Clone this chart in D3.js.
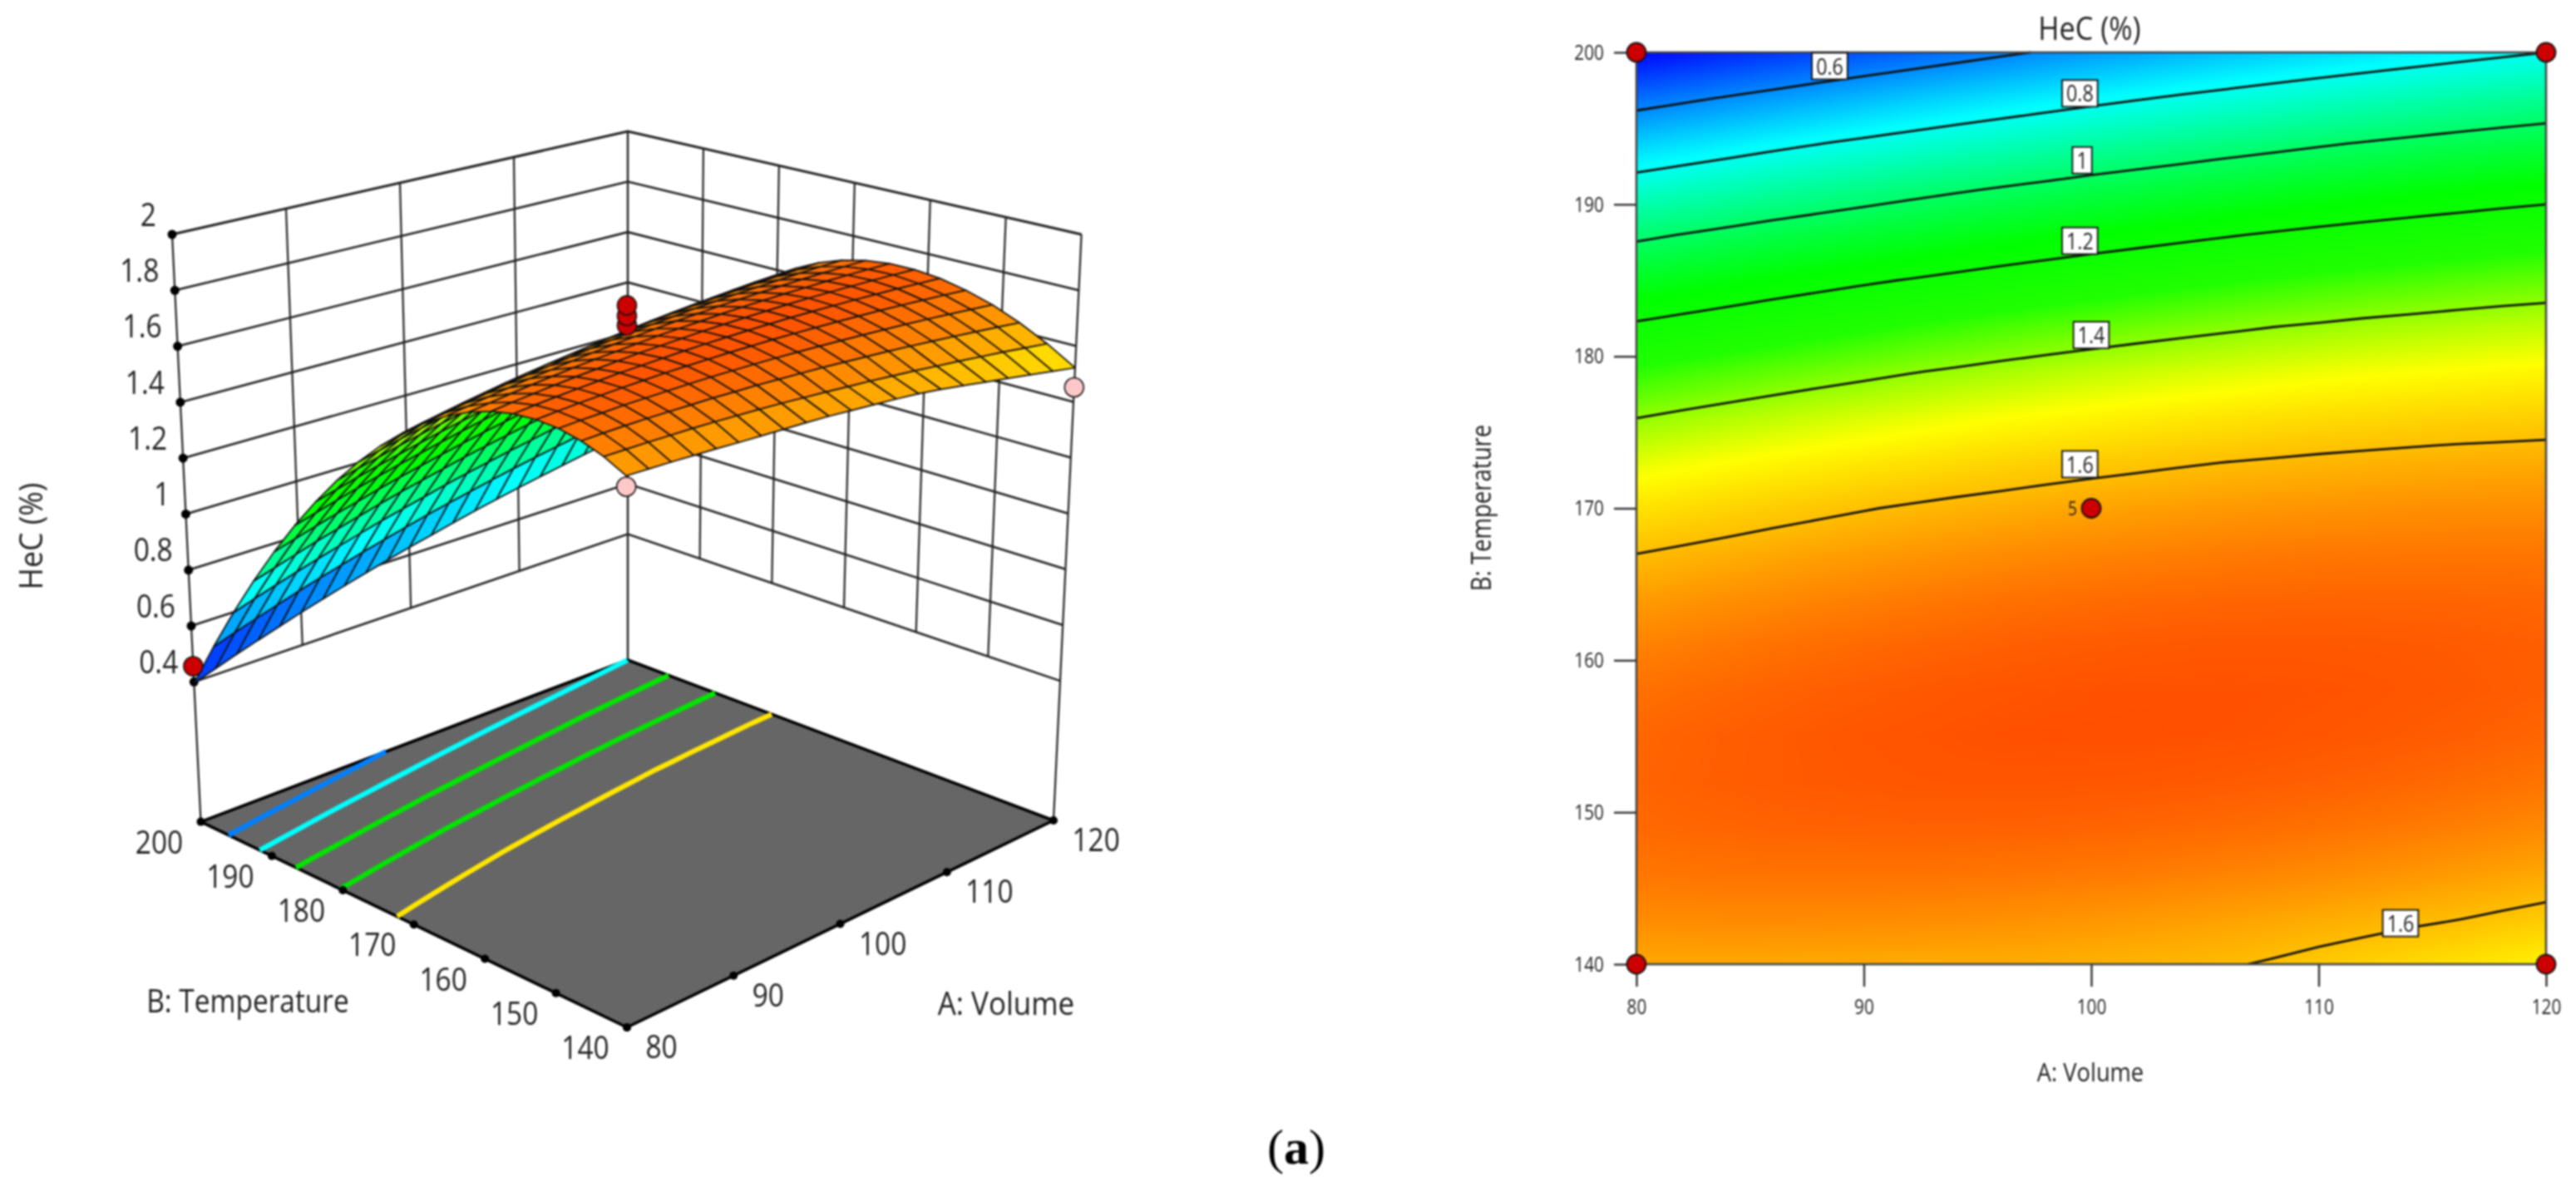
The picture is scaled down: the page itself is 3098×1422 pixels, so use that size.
<!DOCTYPE html>
<html><head><meta charset="utf-8">
<script src="https://cdn.jsdelivr.net/npm/d3@7/dist/d3.min.js"></script>
<style>html,body{margin:0;padding:0;background:#fff}svg{display:block}text{font-family:"Open Sans",sans-serif;fill:#222}</style>
</head><body><div id="chart"></div>
<script>
const volumeTicks=[80,90,100,110,120];
const temperatureTicks=[140,150,160,170,180,190,200];
const hecTicks=[0.4,0.6,0.8,1,1.2,1.4,1.6,1.8,2];
const gridVolume=d3.range(80,120.5,2);
const gridTemperature=d3.range(140,200.5,3);
// HeC (%) read per temperature row (140 -> 200), per volume column (80 -> 120)
const hec140=[1.631,1.631,1.631,1.630,1.629,1.627,1.626,1.625,1.624,1.622,1.618,1.614,1.610,1.604,1.595,1.584,1.572,1.560,1.548,1.535,1.522];
const hec143=[1.670,1.671,1.672,1.672,1.672,1.671,1.669,1.667,1.664,1.660,1.656,1.651,1.646,1.640,1.634,1.626,1.619,1.610,1.602,1.592,1.582];
const hec146=[1.698,1.701,1.703,1.704,1.704,1.704,1.704,1.702,1.701,1.698,1.695,1.692,1.687,1.682,1.677,1.671,1.664,1.657,1.649,1.641,1.632];
const hec149=[1.716,1.720,1.722,1.725,1.726,1.727,1.728,1.728,1.727,1.726,1.724,1.721,1.718,1.714,1.710,1.705,1.700,1.694,1.687,1.680,1.672];
const hec152=[1.723,1.728,1.732,1.735,1.738,1.740,1.742,1.743,1.743,1.743,1.742,1.741,1.739,1.736,1.733,1.729,1.725,1.720,1.714,1.708,1.701];
const hec155=[1.720,1.726,1.731,1.735,1.739,1.743,1.745,1.747,1.749,1.750,1.750,1.750,1.749,1.748,1.746,1.743,1.740,1.736,1.732,1.726,1.721];
const hec158=[1.706,1.713,1.719,1.725,1.730,1.734,1.738,1.742,1.744,1.746,1.748,1.749,1.749,1.749,1.748,1.747,1.745,1.742,1.739,1.735,1.730];
const hec161=[1.681,1.689,1.697,1.704,1.710,1.716,1.721,1.725,1.729,1.733,1.735,1.737,1.739,1.740,1.740,1.740,1.739,1.738,1.736,1.733,1.730];
const hec164=[1.646,1.655,1.664,1.672,1.680,1.686,1.693,1.699,1.704,1.708,1.712,1.716,1.718,1.721,1.722,1.723,1.723,1.723,1.722,1.721,1.719];
const hec167=[1.600,1.610,1.620,1.630,1.639,1.647,1.654,1.661,1.668,1.674,1.679,1.683,1.687,1.691,1.694,1.696,1.697,1.698,1.699,1.699,1.698];
const hec170=[1.543,1.555,1.566,1.577,1.587,1.597,1.606,1.614,1.621,1.629,1.635,1.641,1.646,1.651,1.655,1.658,1.661,1.664,1.665,1.666,1.667];
const hec173=[1.476,1.489,1.502,1.514,1.525,1.536,1.546,1.556,1.565,1.573,1.581,1.588,1.595,1.601,1.606,1.611,1.615,1.619,1.622,1.624,1.626];
const hec176=[1.398,1.413,1.427,1.440,1.453,1.465,1.476,1.487,1.498,1.507,1.516,1.525,1.533,1.540,1.547,1.553,1.558,1.563,1.568,1.571,1.574];
const hec179=[1.310,1.326,1.341,1.356,1.370,1.383,1.396,1.408,1.420,1.431,1.442,1.451,1.461,1.469,1.477,1.485,1.492,1.498,1.503,1.509,1.513];
const hec182=[1.211,1.228,1.245,1.261,1.276,1.291,1.306,1.319,1.332,1.345,1.356,1.368,1.378,1.388,1.398,1.406,1.415,1.422,1.429,1.436,1.441];
const hec185=[1.102,1.120,1.138,1.156,1.173,1.189,1.204,1.219,1.234,1.248,1.261,1.273,1.285,1.297,1.308,1.318,1.327,1.336,1.345,1.353,1.360];
const hec188=[0.982,1.002,1.021,1.040,1.058,1.076,1.093,1.109,1.125,1.140,1.155,1.169,1.182,1.195,1.207,1.219,1.230,1.240,1.250,1.259,1.268];
const hec191=[0.851,0.872,0.893,0.914,0.933,0.952,0.971,0.989,1.006,1.022,1.039,1.054,1.069,1.083,1.097,1.110,1.122,1.134,1.145,1.156,1.166];
const hec194=[0.710,0.733,0.755,0.777,0.798,0.818,0.838,0.858,0.876,0.894,0.912,0.929,0.945,0.961,0.976,0.991,1.005,1.018,1.031,1.043,1.054];
const hec197=[0.558,0.582,0.606,0.629,0.652,0.674,0.695,0.716,0.736,0.756,0.775,0.793,0.811,0.828,0.845,0.861,0.876,0.891,0.905,0.919,0.932];
const hec200=[0.395,0.421,0.447,0.471,0.495,0.519,0.542,0.564,0.586,0.607,0.628,0.647,0.667,0.686,0.704,0.721,0.738,0.754,0.770,0.785,0.800];
const hecGrid=[hec140,hec143,hec146,hec149,hec152,hec155,hec158,hec161,hec164,hec167,hec170,hec173,hec176,hec179,hec182,hec185,hec188,hec191,hec194,hec197,hec200];
const colorValues=[0.39,0.78,1.05,1.15,1.30,1.40,1.50,1.60,1.75];
const colorRange=["#0000ff","#00ffff","#00ff40","#00ff00","#20ff00","#90ff00","#ffff00","#ffbe00","#ff5000"];
const contourLevels=[0.6,0.8,1,1.2,1.4,1.6];
const floorLevels=[0.6,0.8,1,1.2,1.4];
const floorLevelColors=["#0080ff","#00ffff","#00e600","#00e600","#ffe600"];
const labelText=["0.6","0.8","1","1.2","1.4","1.6","1.6"];
const labelVolume=[88.5,99.5,99.6,99.5,100,99.5,113.6];
const labelTemperature=[199.1,197.3,192.9,187.6,181.4,172.9,142.7];
const designVolume=[80,120,80,120,100,100,100];
const designTemperature=[140,140,200,200,170,170,170];
const designHec=[1.597,1.452,0.456,0.70,1.696,1.73,1.767];
const designAbove=[false,false,true,false,true,true,true];

const W=3098,H=1422;
const svg=d3.select("#chart").append("svg").attr("width",W).attr("height",H).attr("viewBox",[0,0,W,H]);
const root=svg.append("g").style("filter","blur(0.8px)");
const nA=gridVolume.length,nB=gridTemperature.length;
const color=d3.scaleLinear().domain(colorValues).range(colorRange).clamp(true);
function condensed(sel,k){sel.each(function(){const n=this.getComputedTextLength();d3.select(this).attr("textLength",n*k).attr("lengthAdjust","spacingAndGlyphs");});return sel;}

// ---- contour extraction -----
const flat=hecGrid.flat();
const gA=d3.scaleLinear([0,nA-1],[80,120]),gB=d3.scaleLinear([0,nB-1],[140,200]);
function contourLines(level){
  const mp=d3.contours().size([nA,nB]).contour(flat,level),out=[],e=1e-6;
  const ins=p=>p[0]>=.5-e&&p[0]<=nA-.5+e&&p[1]>=.5-e&&p[1]<=nB-.5+e;
  mp.coordinates.forEach(poly=>poly.forEach(ring=>{
    const pts=ring.slice(0,-1),s=pts.findIndex(p=>!ins(p));
    if(s<0){out.push(ring);return;}
    let cur=[];
    for(let i=0;i<=pts.length;i++){const p=pts[(s+i)%pts.length];
      if(ins(p))cur.push(p);else{if(cur.length>1)out.push(cur);cur=[];}}
  }));
  return out.map(l=>l.map(p=>[gA(p[0]-.5),gB(p[1]-.5)]));
}

// ---- 3D panel: box camera -----
const uS=d3.scaleLinear([80,120],[0,1]),vS=d3.scaleLinear([140,200],[0,1]),hS=d3.scaleLinear([-0.1,2],[0,1]);
const floorX=[754,1267,755,241.5],floorY=[1236,987,794,988.6];
const topX=[753,1300.6,755,207],topY=[431,282,158,282];
function quad(q,u,v){return (1-u)*(1-v)*q[0]+u*(1-v)*q[1]+u*v*q[2]+(1-u)*v*q[3];}
function projectUV(u,v,z){const h=hS(z);
  return [(1-h)*quad(floorX,u,v)+h*quad(topX,u,v),(1-h)*quad(floorY,u,v)+h*quad(topY,u,v)];}
const project=(A,B,z)=>projectUV(uS(A),vS(B),z);
// depth foreshortening of the curved surface and of its floor projection
const projectSurface=(A,B,z)=>{const u=uS(A),v=vS(B);return projectUV(u,v+0.3*u*v*(1-v),z);};
const projectFloorLine=(A,B,z)=>{const u=uS(A),v=vS(B),r=1-v;return projectUV(u,v-((1-u)*0.37*r*r+u*0.23*r),z);};
const line=d3.line();
const g3=root.append("g");
const grid=g3.append("g").attr("fill","none").attr("stroke","#222");
const floorZ=-0.1;
hecTicks.forEach(z=>{
  grid.append("path").attr("stroke-width",z===2?3:2.6).attr("d",line([project(80,200,z),project(120,200,z),project(120,140,z)]));
});
volumeTicks.forEach(a=>{grid.append("path").attr("stroke-width",2.2).attr("d",line([project(a,200,a===80||a===120?floorZ:0.4),project(a,200,2)]));});
temperatureTicks.forEach(b=>{grid.append("path").attr("stroke-width",2.2).attr("d",line([project(120,b,b===140||b===200?floorZ:0.4),project(120,b,2)]));});
g3.append("path").attr("fill","#666").attr("stroke","#000").attr("stroke-width",3.6).attr("stroke-linejoin","round")
  .attr("d",line([[80,140],[120,140],[120,200],[80,200]].map(c=>project(c[0],c[1],floorZ)))+"Z");
floorLevels.forEach((lv,i)=>{contourLines(lv).forEach(l=>{
  g3.append("path").attr("fill","none").attr("stroke",floorLevelColors[i]).attr("stroke-width",6)
    .attr("d",line(l.map(p=>projectFloorLine(p[0],p[1],floorZ))));});});
// ticks
const tickDots=g3.append("g").attr("fill","#000");
volumeTicks.forEach(a=>{const p=project(a,140,floorZ);tickDots.append("circle").attr("cx",p[0]).attr("cy",p[1]).attr("r",5);});
temperatureTicks.forEach(b=>{const p=project(80,b,floorZ);tickDots.append("circle").attr("cx",p[0]).attr("cy",p[1]).attr("r",5);});
tickDots.append("circle").attr("cx",project(120,200,floorZ)[0]).attr("cy",project(120,200,floorZ)[1]).attr("r",1);
hecTicks.forEach(z=>{const p=project(80,200,z);tickDots.append("circle").attr("cx",p[0]).attr("cy",p[1]).attr("r",5.5);});
// tick labels
hecTicks.forEach(z=>{const p=project(80,200,z);
  g3.append("text").attr("class","c88").attr("x",p[0]-19).attr("y",p[1]-24).attr("dy",".36em").attr("text-anchor","end").attr("font-size",38).text(z);});
volumeTicks.forEach(a=>{const p=project(a,140,floorZ);
  g3.append("text").attr("class","c88").attr("x",p[0]+22.5).attr("y",p[1]+23.5).attr("dy",".36em").attr("text-anchor","start").attr("font-size",38).text(a);});
temperatureTicks.forEach(b=>{const p=project(80,b,floorZ);
  g3.append("text").attr("class","c88").attr("x",p[0]-50).attr("y",p[1]+24.5).attr("dy",".36em").attr("text-anchor","middle").attr("font-size",38).text(b);});
g3.append("text").attr("class","c94").attr("x",37).attr("y",645).attr("transform","rotate(-90 37 645)").attr("text-anchor","middle").attr("dy",".36em").attr("font-size",38).text("HeC (%)");
g3.append("text").attr("class","c88").attr("x",298).attr("y",1204).attr("text-anchor","middle").attr("dy",".36em").attr("font-size",38).text("B: Temperature");
g3.append("text").attr("class","c92").attr("x",1210).attr("y",1207).attr("text-anchor","middle").attr("dy",".36em").attr("font-size",38).text("A: Volume");

function designPoint(g,i){const p=project(designVolume[i],designTemperature[i],designHec[i]);
  g.append("circle").attr("cx",p[0]).attr("cy",p[1]).attr("r",11.5).attr("fill",designAbove[i]?"#cc0000":"#ffc8c8").attr("stroke","#111").attr("stroke-width",1.6);}
designHec.forEach((_,i)=>{if(!designAbove[i])designPoint(g3,i);});
// surface: painter's order, far corner first
const cells=[];
for(let j=0;j<nB-1;j++)for(let i=0;i<nA-1;i++)cells.push({i,j});
cells.sort((a,b)=>(b.i+b.j)-(a.i+a.j));
g3.append("g").attr("stroke","#111").attr("stroke-width",1.7).attr("stroke-linejoin","round").selectAll("path").data(cells).join("path")
  .attr("fill",c=>color(d3.mean([hecGrid[c.j][c.i],hecGrid[c.j][c.i+1],hecGrid[c.j+1][c.i+1],hecGrid[c.j+1][c.i]])))
  .attr("d",c=>line([[c.i,c.j],[c.i+1,c.j],[c.i+1,c.j+1],[c.i,c.j+1]].map(k=>projectSurface(gridVolume[k[0]],gridTemperature[k[1]],hecGrid[k[1]][k[0]])))+"Z");
designHec.forEach((_,i)=>{if(designAbove[i])designPoint(g3,i);});

// ---- contour panel -----
const x2=d3.scaleLinear([80,120],[1968,3062]),y2=d3.scaleLinear([140,200],[1160,63]);
const g2=root.append("g");
const cv=document.createElement("canvas");
const pw=Math.round(x2(120)-x2(80)),ph=Math.round(y2(140)-y2(200));cv.width=pw;cv.height=ph;
const ctx=cv.getContext("2d"),img=ctx.createImageData(pw,ph);
const ix=d3.scaleLinear([0,pw-1],[0,nA-1]),iy=d3.scaleLinear([0,ph-1],[nB-1,0]);
for(let py=0;py<ph;py++){const fy=iy(py),j=Math.min(nB-2,Math.floor(fy)),ty=fy-j;
  for(let px=0;px<pw;px++){const fx=ix(px),i=Math.min(nA-2,Math.floor(fx)),tx=fx-i;
    const val=(1-ty)*((1-tx)*hecGrid[j][i]+tx*hecGrid[j][i+1])+ty*((1-tx)*hecGrid[j+1][i]+tx*hecGrid[j+1][i+1]);
    const c=d3.rgb(color(val)),o=(py*pw+px)*4;img.data[o]=c.r;img.data[o+1]=c.g;img.data[o+2]=c.b;img.data[o+3]=255;}}
ctx.putImageData(img,0,0);
g2.append("image").attr("x",x2(80)).attr("y",y2(200)).attr("width",pw).attr("height",ph).attr("href",cv.toDataURL());
contourLevels.forEach(lv=>{contourLines(lv).forEach(l=>{
  g2.append("path").attr("fill","none").attr("stroke","#111").attr("stroke-width",2.8).attr("d",line(l.map(p=>[x2(p[0]),y2(p[1])])));});});
g2.append("rect").attr("x",x2(80)).attr("y",y2(200)).attr("width",pw).attr("height",ph).attr("fill","none").attr("stroke","#444").attr("stroke-width",2.5);
g2.append("g").attr("transform",`translate(0,${y2(140)})`).call(d3.axisBottom(x2).tickValues(volumeTicks).tickSize(27).tickPadding(15).tickFormat(d3.format("d")))
  .call(a=>{a.select(".domain").remove();a.selectAll("line").attr("stroke","#333").attr("stroke-width",2.4);a.selectAll("text").attr("class","c80").attr("font-size",26).attr("font-family",null);});
g2.append("g").attr("transform",`translate(${x2(80)},0)`).call(d3.axisLeft(y2).tickValues(temperatureTicks).tickSize(27).tickPadding(12).tickFormat(d3.format("d")))
  .call(a=>{a.select(".domain").remove();a.selectAll("line").attr("stroke","#333").attr("stroke-width",2.4);a.selectAll("text").attr("class","c80").attr("font-size",26).attr("font-family",null);});
g2.append("text").attr("class","c90").attr("x",2513).attr("y",34).attr("text-anchor","middle").attr("dy",".36em").attr("font-size",38).text("HeC (%)");
g2.append("text").attr("class","c88").attr("x",2514).attr("y",1290).attr("text-anchor","middle").attr("dy",".36em").attr("font-size",31).text("A: Volume");
g2.append("text").attr("class","c86").attr("x",1781).attr("y",611).attr("transform","rotate(-90 1781 611)").attr("text-anchor","middle").attr("dy",".36em").attr("font-size",32).text("B: Temperature");
labelText.forEach((t,i)=>{
  const lab=g2.append("g").attr("transform",`translate(${x2(labelVolume[i])},${y2(labelTemperature[i])})`);
  const rect=lab.append("rect").attr("fill","#fff").attr("stroke","#111").attr("stroke-width",1.8).attr("y",-16).attr("height",32);
  const tx=lab.append("text").attr("class","c83").attr("text-anchor","middle").attr("dy",".36em").attr("font-size",28).text(t);
  const w=tx.node().getComputedTextLength()*0.83+10;rect.attr("x",-w/2).attr("width",w);
});
for(let i=0;i<designVolume.length-2;i++){
  g2.append("circle").attr("cx",x2(designVolume[i])).attr("cy",y2(designTemperature[i])).attr("r",11.5).attr("fill","#cc0000").attr("stroke","#111").attr("stroke-width",1.8);
}
g2.append("text").attr("class","c80").attr("x",x2(100)-17).attr("y",y2(170)).attr("dy",".36em").attr("text-anchor","end").attr("font-size",24).text("5");

root.append("text").attr("x",1559).attr("y",1380).attr("text-anchor","middle").attr("dy",".33em").attr("font-size",60)
  .style("font-family","'Liberation Serif',serif").style("fill","#000")
  .html('(<tspan font-weight="bold">a</tspan>)');

[["c80",.8],["c83",.83],["c86",.86],["c88",.88],["c90",.9],["c92",.92],["c94",.94]].forEach(([c,k])=>condensed(root.selectAll("text."+c),k));
</script></body></html>
